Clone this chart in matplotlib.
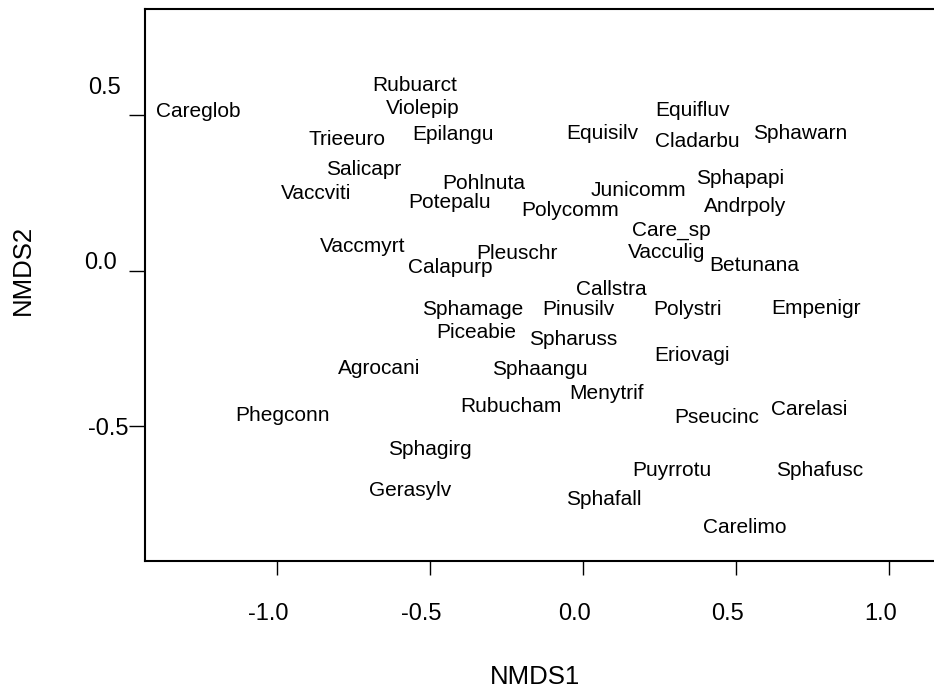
import matplotlib
matplotlib.use("Agg")
import matplotlib.pyplot as plt
from matplotlib.transforms import ScaledTranslation

plt.rcParams["font.family"] = ["Liberation Sans", "DejaVu Sans"]

# --- Species scores (NMDS1, NMDS2) ---
species = [
    "Careglob", "Rubuarct", "Violepip", "Epilangu", "Trieeuro", "Salicapr",
    "Vaccviti", "Pohlnuta", "Potepalu", "Vaccmyrt", "Calapurp", "Pleuschr",
    "Equifluv", "Equisilv", "Cladarbu", "Sphawarn", "Sphapapi", "Junicomm",
    "Andrpoly", "Polycomm", "Care_sp", "Vacculig", "Betunana", "Callstra",
    "Sphamage", "Piceabie", "Agrocani", "Phegconn", "Sphagirg", "Gerasylv",
    "Sphaangu", "Rubucham", "Pinusilv", "Polystri", "Empenigr", "Spharuss",
    "Eriovagi", "Menytrif", "Pseucinc", "Carelasi", "Puyrrotu", "Sphafusc",
    "Sphafall", "Carelimo",
]
nmds1 = [
    -1.256, -0.548, -0.522, -0.424, -0.769, -0.714,
    -0.872, -0.323, -0.436, -0.718, -0.434, -0.214,
    0.359, 0.065, 0.373, 0.711, 0.515, 0.182,
    0.530, -0.040, 0.289, 0.275, 0.562, 0.093,
    -0.360, -0.349, -0.665, -0.980, -0.500, -0.563,
    -0.139, -0.234, -0.013, 0.341, 0.761, -0.031,
    0.357, 0.079, 0.438, 0.740, 0.290, 0.773,
    0.069, 0.528,
]
nmds2 = [
    0.513, 0.597, 0.522, 0.439, 0.422, 0.327,
    0.249, 0.281, 0.219, 0.077, 0.011, 0.054,
    0.514, 0.442, 0.415, 0.442, 0.297, 0.257,
    0.206, 0.193, 0.128, 0.059, 0.016, -0.059,
    -0.126, -0.198, -0.314, -0.464, -0.574, -0.707,
    -0.317, -0.435, -0.126, -0.126, -0.121, -0.221,
    -0.274, -0.394, -0.473, -0.446, -0.643, -0.643,
    -0.737, -0.825,
]

x_ticks = [-1.0, -0.5, 0.0, 0.5, 1.0]
x_tick_labels = ["-1.0", "-0.5", "0.0", "0.5", "1.0"]
y_ticks = [-0.5, 0.0, 0.5]
y_tick_labels = ["-0.5", "0.0", "0.5"]

fig = plt.figure(figsize=(9.34, 6.91), dpi=100)
# right edge of the box sits just outside the picture, like the original
ax = fig.add_axes([0.1552, 0.1881, 0.8469, 0.7984])

for name, x, y in zip(species, nmds1, nmds2):
    ax.text(x, y, name, ha="center", va="center", fontsize=15, color="black")

ax.set_xlim(-1.430, 1.154)
ax.set_ylim(-0.9334, 0.8405)

ax.set_xticks(x_ticks)
ax.set_xticklabels(x_tick_labels)
ax.set_yticks(y_ticks)
ax.set_yticklabels(y_tick_labels)

ax.tick_params(axis="x", length=10.1, width=1.0, pad=20, labelsize=17)
ax.tick_params(axis="y", length=11.5, width=1.0, pad=5.5, labelsize=17)

for spine in ax.spines.values():
    spine.set_linewidth(1.5)

# small nudges of tick labels (pixels) to follow the reference
px = 1 / 100
for lab in ax.get_xticklabels():
    lab.set_transform(lab.get_transform() + ScaledTranslation(-8 * px, 0, fig.dpi_scale_trans))
y_shift = {"-0.5": (7, 0), "0.0": (-4, 10.7), "0.5": (0, 30)}
for lab in ax.get_yticklabels():
    dx, dy = y_shift[lab.get_text()]
    lab.set_transform(lab.get_transform() + ScaledTranslation(dx * px, dy * px, fig.dpi_scale_trans))

fig.text(535 / 934, 1 - 676.7 / 691, "NMDS1", ha="center", va="center", fontsize=18.5)
fig.text(23.3 / 934, 1 - 270 / 691, "NMDS2", ha="center", va="center", fontsize=18.5,
         rotation=90)

fig.savefig("out.png", dpi=100)
